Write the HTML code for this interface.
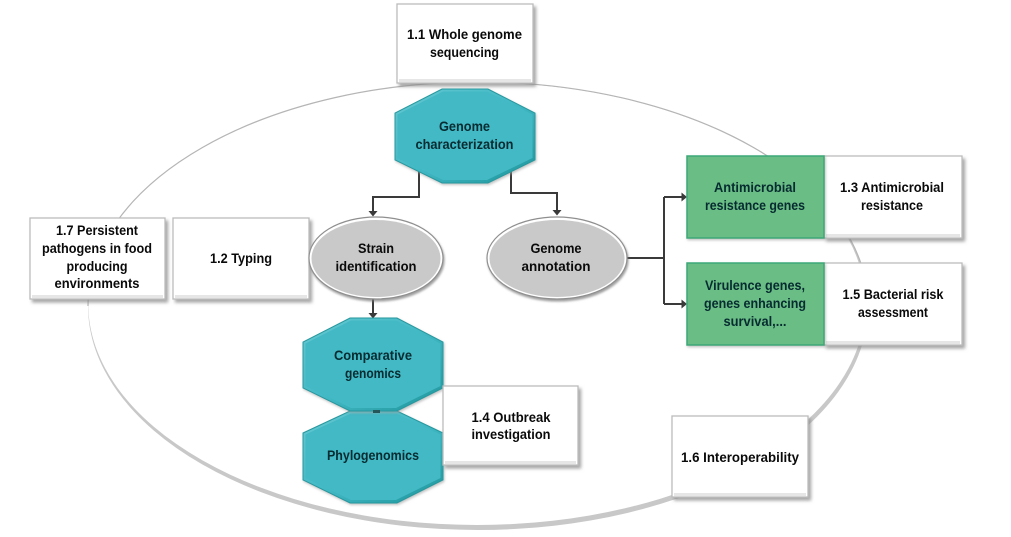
<!DOCTYPE html>
<html>
<head>
<meta charset="utf-8">
<style>
html,body{margin:0;padding:0;background:#fff;width:1011px;height:537px;overflow:hidden}
svg{display:block;filter:blur(.35px)}
text{font-family:"Liberation Sans",sans-serif;font-weight:bold;font-size:13.5px;text-anchor:middle;fill:#0a0a0a}
text.d{fill:#062b30}
.box{fill:#fff;stroke:#bcbcbc;stroke-width:1.3;filter:url(#sh)}
.bev{fill:none;stroke:#e6e6e6;stroke-width:3}
.conn{fill:none;stroke:#3a3a3a;stroke-width:2}
.ah{fill:#3a3a3a}
.oct{fill:url(#og);stroke:#25989e;stroke-width:1;filter:url(#sh2)}
.octi{fill:#42b9c5}
.grn{fill:#6bbd84;stroke:#3ba878;stroke-width:1.5;filter:url(#sh2)}
.el{fill:#fff;stroke:#8f8f8f;stroke-width:1.2;filter:url(#sh3)}
.eli{fill:#c9c9c9}
</style>
</head>
<body>
<svg width="1011" height="537" viewBox="0 0 1011 537" xmlns="http://www.w3.org/2000/svg">
<defs>
<filter id="sh" x="-10%" y="-10%" width="125%" height="125%"><feDropShadow dx="2.5" dy="3" stdDeviation="1.5" flood-color="#8a8a8a" flood-opacity=".75"/></filter>
<filter id="sh2" x="-10%" y="-10%" width="125%" height="125%"><feDropShadow dx="1" dy="1.5" stdDeviation="1.2" flood-color="#999" flood-opacity=".6"/></filter>
<filter id="sh3" x="-10%" y="-10%" width="125%" height="125%"><feDropShadow dx="1" dy="2" stdDeviation="1" flood-color="#777" flood-opacity=".7"/></filter>
<linearGradient id="og" x1="0" y1="0" x2="1" y2="1"><stop offset="0" stop-color="#66c8d1"/><stop offset=".5" stop-color="#42b9c5"/><stop offset="1" stop-color="#1f959b"/></linearGradient>
</defs>

<!-- big ring: crescent, thick lower-right, thin upper-left -->
<ellipse cx="478" cy="306" rx="390" ry="224" fill="#c8c8c8"/>
<ellipse cx="476.8" cy="303.6" rx="388.6" ry="221.4" fill="#fff"/>
<path d="M88 306 A390 224 0 0 1 868 306" fill="none" stroke="#b5b5b5" stroke-width="1.2"/>

<!-- connectors -->
<path class="conn" d="M419 170V197H373V213"/>
<path class="ah" d="M368.5 211H377.5L373 216.5Z"/>
<path class="conn" d="M511 170V193H557V211"/>
<path class="ah" d="M552.5 210H561.5L557 215.5Z"/>
<path class="conn" d="M627 258H664M664 197V304M664 197H682M664 304H682"/>
<path class="ah" d="M681.5 192.5L687 197L681.5 201.5Z M681.5 299.5L687 304L681.5 308.5Z"/>
<path class="conn" d="M373 298V314"/>
<path class="ah" d="M368.5 313H377.5L373 318.5Z"/>

<!-- 1.1 -->
<rect class="box" x="397" y="4" width="136" height="79"/>
<path class="bev" d="M399 80.5H531"/>

<!-- Genome characterization -->
<polygon class="oct" points="442,89 488,89 535,113 535,160 488,183 442,183 395,160 395,113"/>
<polygon class="octi" points="443,91.5 487,91.5 532.5,114.5 532.5,158 487,180 443,180 397.5,158 397.5,114.5"/>

<!-- 1.7 -->
<rect class="box" x="30" y="218" width="135" height="81"/>
<path class="bev" d="M32 296.5H163"/>
<!-- 1.2 -->
<rect class="box" x="173" y="218" width="136" height="81"/>
<path class="bev" d="M175 296.5H307"/>

<!-- ellipses -->
<ellipse class="el" cx="376" cy="258" rx="67" ry="41"/>
<ellipse class="eli" cx="376" cy="258.5" rx="64.5" ry="38.5"/>
<ellipse class="el" cx="557" cy="258" rx="70" ry="41"/>
<ellipse class="eli" cx="557" cy="258.5" rx="67.5" ry="38.5"/>

<!-- Phylogenomics -->
<polygon class="oct" points="350,411 397,411 443,433 443,480 397,503 350,503 303,480 303,433"/>
<polygon class="octi" points="351,413.5 396,413.5 440.5,434.5 440.5,478 396,500 351,500 305.5,478 305.5,434.5"/>
<!-- Comparative -->
<polygon class="oct" points="350,318 397,318 443,342 443,388 397,411 350,411 303,388 303,342"/>
<polygon class="octi" points="351,320.5 396,320.5 440.5,343.5 440.5,386 396,408 351,408 305.5,386 305.5,343.5"/>
<rect x="373" y="410" width="7" height="3" fill="#24565a"/>

<!-- 1.4 -->
<rect class="box" x="443" y="386" width="135" height="79"/>
<path class="bev" d="M445 462.5H576"/>

<!-- right group -->
<rect class="box" x="824" y="156" width="138" height="82"/>
<path class="bev" d="M826 235.5H960"/>
<rect class="box" x="824" y="263" width="138" height="82"/>
<path class="bev" d="M826 342.5H960"/>
<rect class="grn" x="687" y="156" width="137" height="82"/>
<rect class="grn" x="687" y="263" width="137" height="82"/>

<!-- 1.6 -->
<rect class="box" x="672" y="416" width="136" height="81"/>
<path class="bev" d="M674 494.5H806"/>

<!-- labels -->
<text x="464.5" y="39" textLength="115" lengthAdjust="spacingAndGlyphs">1.1 Whole genome</text>
<text x="464.5" y="57" textLength="69" lengthAdjust="spacingAndGlyphs">sequencing</text>
<text class="d" x="464.5" y="131" textLength="51" lengthAdjust="spacingAndGlyphs">Genome</text>
<text class="d" x="464.5" y="149" textLength="98" lengthAdjust="spacingAndGlyphs">characterization</text>
<text x="97" y="235" textLength="82" lengthAdjust="spacingAndGlyphs">1.7 Persistent</text>
<text x="97" y="253" textLength="110" lengthAdjust="spacingAndGlyphs">pathogens in food</text>
<text x="97" y="271" textLength="61" lengthAdjust="spacingAndGlyphs">producing</text>
<text x="97" y="288" textLength="85" lengthAdjust="spacingAndGlyphs">environments</text>
<text x="241" y="263" textLength="62" lengthAdjust="spacingAndGlyphs">1.2 Typing</text>
<text x="376" y="253" textLength="36" lengthAdjust="spacingAndGlyphs">Strain</text>
<text x="376" y="271" textLength="81" lengthAdjust="spacingAndGlyphs">identification</text>
<text x="556" y="253" textLength="51" lengthAdjust="spacingAndGlyphs">Genome</text>
<text x="556" y="271" textLength="69" lengthAdjust="spacingAndGlyphs">annotation</text>
<text class="d" x="373" y="360" textLength="78" lengthAdjust="spacingAndGlyphs">Comparative</text>
<text class="d" x="373" y="378" textLength="56" lengthAdjust="spacingAndGlyphs">genomics</text>
<text class="d" x="373" y="460" textLength="92" lengthAdjust="spacingAndGlyphs">Phylogenomics</text>
<text x="511" y="422" textLength="79" lengthAdjust="spacingAndGlyphs">1.4 Outbreak</text>
<text x="511" y="439" textLength="79" lengthAdjust="spacingAndGlyphs">investigation</text>
<text class="d" x="755" y="192" textLength="82" lengthAdjust="spacingAndGlyphs">Antimicrobial</text>
<text class="d" x="755" y="210" textLength="100" lengthAdjust="spacingAndGlyphs">resistance genes</text>
<text class="d" x="755" y="290" textLength="100" lengthAdjust="spacingAndGlyphs">Virulence genes,</text>
<text class="d" x="755" y="308" textLength="102" lengthAdjust="spacingAndGlyphs">genes enhancing</text>
<text class="d" x="755" y="326" textLength="63" lengthAdjust="spacingAndGlyphs">survival,...</text>
<text x="892" y="192" textLength="104" lengthAdjust="spacingAndGlyphs">1.3 Antimicrobial</text>
<text x="892" y="210" textLength="62" lengthAdjust="spacingAndGlyphs">resistance</text>
<text x="893" y="299" textLength="101" lengthAdjust="spacingAndGlyphs">1.5 Bacterial risk</text>
<text x="893" y="317" textLength="70" lengthAdjust="spacingAndGlyphs">assessment</text>
<text x="740" y="462" textLength="118" lengthAdjust="spacingAndGlyphs">1.6 Interoperability</text>
</svg>
</body>
</html>
